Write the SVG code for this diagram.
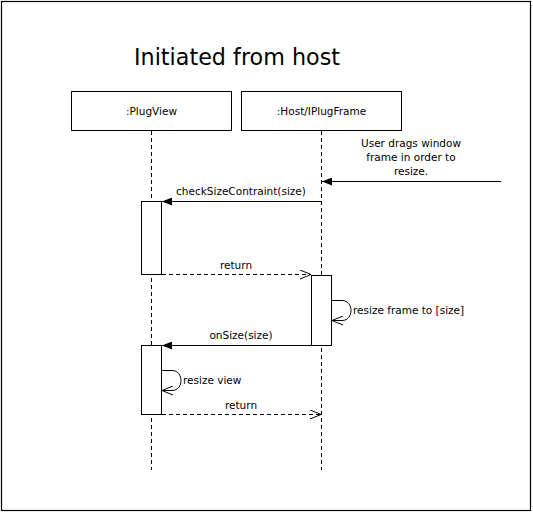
<svg xmlns="http://www.w3.org/2000/svg" width="533" height="513" viewBox="0 0 533 513">
<style>
text{font-family:"DejaVu Sans",Verdana,sans-serif;fill:#000}
.lbl{font-size:10.5px}
.title{font-size:22.5px}
.box{fill:#fff;stroke:#000;stroke-width:1}
.life{stroke:#000;stroke-width:1;stroke-dasharray:4,3;fill:none}
.msg{stroke:#000;stroke-width:1;fill:none}
.ret{stroke:#000;stroke-width:1;fill:none;stroke-dasharray:4,3}
</style>
<defs>
<marker id="filled" viewBox="0 0 10 8" refX="10" refY="4" markerWidth="10" markerHeight="8" markerUnits="userSpaceOnUse" orient="auto">
<path d="M0,0 L10,4 L0,8 Z" fill="#000"/>
</marker>
<marker id="open" viewBox="0 0 12 10" refX="11" refY="5" markerWidth="12" markerHeight="10" markerUnits="userSpaceOnUse" orient="auto">
<path d="M0,0.5 L11,5 L0,9.5" fill="none" stroke="#000" stroke-width="1"/>
</marker>
</defs>
<rect x="0" y="0" width="533" height="513" fill="#fff"/>
<rect x="1.5" y="1.5" width="529" height="509" fill="none" stroke="#000" stroke-width="1.2"/>
<text class="title" x="237" y="65" text-anchor="middle" textLength="206" lengthAdjust="spacingAndGlyphs">Initiated from host</text>
<g id="connectors">
<line class="life" x1="151.5" y1="131" x2="151.5" y2="470"/>
<line class="life" x1="321.5" y1="131" x2="321.5" y2="470"/>
<line class="msg" x1="501" y1="181.5" x2="322" y2="181.5" marker-end="url(#filled)"/>
<line class="msg" x1="321.5" y1="201.5" x2="162" y2="201.5" marker-end="url(#filled)"/>
<line class="ret" x1="162" y1="274.5" x2="311" y2="274.5" marker-end="url(#open)"/>
<path class="msg" d="M332,300.5 L342,300.5 C354,300.5 354,320.5 342,320.5 L332,320.5" marker-end="url(#open)"/>
<line class="msg" x1="311.5" y1="345.5" x2="162" y2="345.5" marker-end="url(#filled)"/>
<path class="msg" d="M162,370.5 L172,370.5 C184,370.5 184,390.5 172,390.5 L162,390.5" marker-end="url(#open)"/>
<line class="ret" x1="162" y1="414.5" x2="321" y2="414.5" marker-end="url(#open)"/>
</g>
<g id="plugview">
<rect class="box" x="71.5" y="91.5" width="160" height="39"/>
<text class="lbl" x="151.5" y="115" text-anchor="middle">:PlugView</text>
</g>
<g id="host">
<rect class="box" x="241.5" y="91.5" width="160" height="39"/>
<text class="lbl" x="321.5" y="115" text-anchor="middle">:Host/IPlugFrame</text>
</g>
<g id="act-plugview-1"><rect class="box" x="141.5" y="201.5" width="20" height="73"/></g>
<g id="act-host"><rect class="box" x="311.5" y="275.5" width="20" height="70"/></g>
<g id="act-plugview-2"><rect class="box" x="141.5" y="345.5" width="20" height="69"/></g>
<g id="labels">
<text class="lbl" x="411" y="147" text-anchor="middle">User drags window</text>
<text class="lbl" x="411" y="161" text-anchor="middle">frame in order to</text>
<text class="lbl" x="411" y="175" text-anchor="middle">resize.</text>
<text class="lbl" x="241" y="195" text-anchor="middle">checkSizeContraint(size)</text>
<text class="lbl" x="236" y="269" text-anchor="middle">return</text>
<text class="lbl" x="353" y="314">resize frame to [size]</text>
<text class="lbl" x="241" y="339" text-anchor="middle">onSize(size)</text>
<text class="lbl" x="183" y="384">resize view</text>
<text class="lbl" x="241" y="409" text-anchor="middle">return</text>
</g>
</svg>
